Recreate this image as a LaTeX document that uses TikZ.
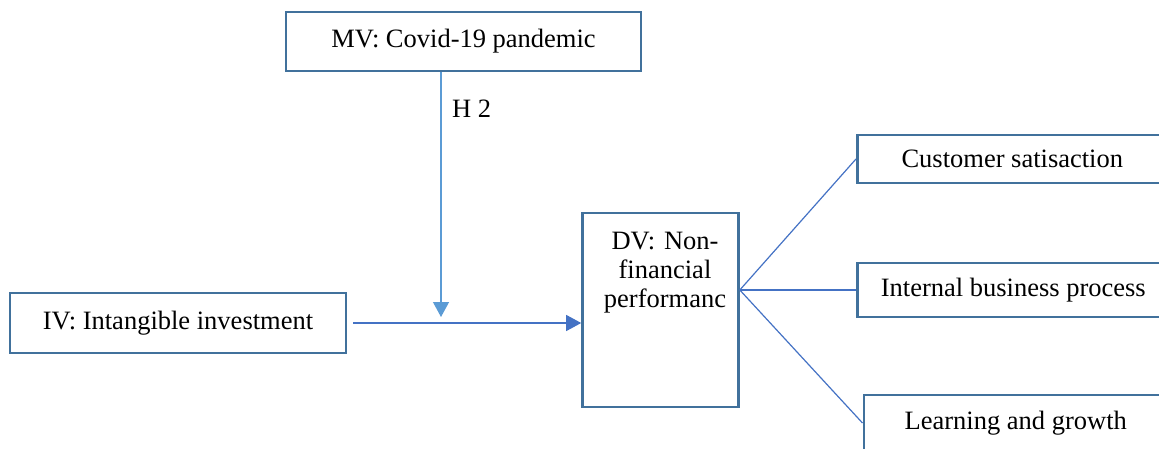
\documentclass[tikz,border=0pt]{standalone}
\usepackage{fontspec}
\setmainfont{Liberation Serif}
\usetikzlibrary{arrows.meta}
\definecolor{boxblue}{HTML}{41719C}
\definecolor{linkblue}{HTML}{4472C4}
\definecolor{modblue}{HTML}{5B9BD5}

\begin{document}
\begin{tikzpicture}[x=1pt,y=-1pt,
    every node/.style={font=\fontsize{26.5}{29}\selectfont},
    var/.style={draw=boxblue,line width=2.6pt,inner sep=0pt},
    link/.style={draw=linkblue,line width=1.2pt},
    tip/.style={-{Triangle[length=15pt,width=16pt]}}]
        \useasboundingbox (0,0) rectangle (1159,449);
        % variables
        \node[var,minimum width=355,minimum height=59] (mv) at (463.5,41.5) {MV: Covid-19 pandemic};
        \node[var,minimum width=336,minimum height=60] (iv) at (178,323) {IV: Intangible investment};
        \node[var,minimum width=156,minimum height=194] (dv) at (660.5,310) {};
        \node[align=center,text width=124pt,inner sep=0pt,anchor=north] (dvtext) at (665,232) {DV: Non-\\financial\\performanc};
        % dimensions
        \node[var,minimum width=310,minimum height=48,anchor=west] (cs) at (856,159) {Customer satisaction};
        \node[var,minimum width=312,minimum height=54,anchor=west] (ibp) at (856,290) {Internal business process};
        \node[var,minimum width=304,minimum height=56,anchor=west] (lg) at (862.5,423) {Learning and growth};
        % links
        \coordinate (hub) at ([yshift=20pt]dv.east);
        \foreach \d in {cs,ibp,lg} {
          \draw[link] (hub) -- (\d.west);
        }
        \draw[link,tip,fill=linkblue] ([xshift=6pt]iv.east) -- (dv.west |- iv.east);
        \coordinate (h2end) at (441,317);
        \draw[draw=modblue,fill=modblue,line width=1.2pt,tip] (mv.south -| h2end) -- (h2end);
        \node[anchor=west,inner sep=0pt] (h2) at (452,109) {H 2};
\end{tikzpicture}
\end{document}
